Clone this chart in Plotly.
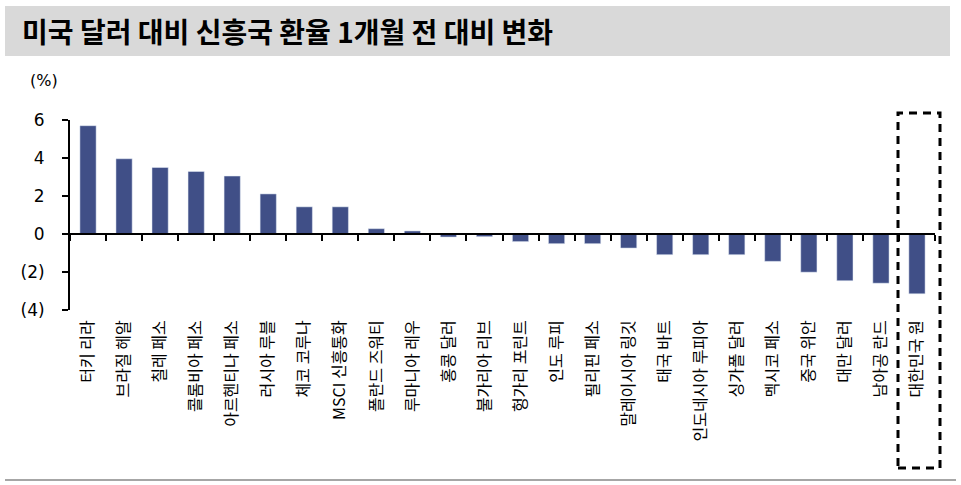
import plotly.graph_objects as go

categories = ["터키 리라", "브라질 헤알", "칠레 페소", "콜롬비아 페소", "아르헨티나 페소",
              "러시아 루블", "체코 코루나", "MSCI 신흥통화", "폴란드 즈워티", "루마니아 레우",
              "홍콩 달러", "불가리아 리브", "헝가리 포린트", "인도 루피", "필리핀 페소",
              "말레이시아 링깃", "태국 바트", "인도네시아 루피아", "싱가폴 달러", "멕시코 페소",
              "중국 위안", "대만 달러", "남아공 란드", "대한민국 원"]
values = [5.70, 3.96, 3.50, 3.29, 3.05, 2.11, 1.43, 1.43, 0.28, 0.16,
          -0.16, -0.14, -0.40, -0.51, -0.51, -0.74, -1.09, -1.09, -1.09, -1.44,
          -2.01, -2.46, -2.59, -3.15]
y_ticks = [-4, -2, 0, 2, 4, 6]
y_tick_labels = ["(4)", "(2)", "0", "2", "4", "6"]
title_text = "미국 달러 대비 신흥국 환율 1개월 전 대비 변화"
unit_text = "(%)"
highlight = "대한민국 원"

W, H = 961, 485
ML, MR, MT, MB = 70, 26, 120, 175
PW, PH = W - ML - MR, H - MT - MB
YMIN, YMAX = -4, 6

def px_x(px):
    return (px - ML) / PW

def px_y(py):
    return (H - MB - py) / PH

FONT = "Noto Sans CJK KR"
BAR = "#404F87"

fig = go.Figure()
fig.add_trace(go.Bar(x=categories, y=values, marker=dict(color=BAR, line=dict(width=0)),
                     width=0.45, xaxis="x", yaxis="y", hoverinfo="x+y"))
# invisible trace for the label axis at the bottom
fig.add_trace(go.Bar(x=categories, y=values, marker=dict(color="rgba(0,0,0,0)"),
                     width=0.45, xaxis="x2", yaxis="y", hoverinfo="skip", showlegend=False))

zero_pos = (0 - YMIN) / (YMAX - YMIN)

fig.update_layout(
    width=W, height=H,
    margin=dict(l=ML, r=MR, t=MT, b=MB),
    paper_bgcolor="white", plot_bgcolor="white",
    showlegend=False,
    font=dict(family=FONT, color="black"),
    xaxis=dict(type="category", anchor="free", position=zero_pos, showline=True,
               linecolor="black", linewidth=2, ticks="outside", ticklen=6, tickwidth=2,
               tickcolor="black", tickson="boundaries", showticklabels=False,
               showgrid=False, zeroline=False, range=[-0.5, len(categories) - 0.5]),
    xaxis2=dict(type="category", overlaying="x", anchor="y", side="bottom",
                showline=False, ticks="", showgrid=False, tickangle=-90,
                tickfont=dict(size=16, family=FONT, color="black"),
                ticklabelstandoff=6, range=[-0.5, len(categories) - 0.5]),
    yaxis=dict(range=[YMIN, YMAX], tickvals=y_ticks, ticktext=y_tick_labels,
               showline=True, linecolor="black", linewidth=2, ticks="outside",
               ticklen=6, tickwidth=2, tickcolor="black", showgrid=False,
               zeroline=False, tickfont=dict(size=17, family="DejaVu Sans", color="black"),
               ticklabelstandoff=14),
    bargap=0.55,
)

shapes = [
    # title band
    dict(type="rect", xref="paper", yref="paper", x0=px_x(5), x1=px_x(950),
         y0=px_y(56), y1=px_y(6), fillcolor="#D9D9D9", line=dict(width=0), layer="below"),
    # bottom rule
    dict(type="line", xref="paper", yref="paper", x0=px_x(5), x1=px_x(956),
         y0=px_y(480), y1=px_y(480), line=dict(color="#A6A6A6", width=2)),
    # highlight box around the last category
    dict(type="rect", xref="paper", yref="paper", x0=px_x(898), x1=px_x(940),
         y0=px_y(468), y1=px_y(113), line=dict(color="black", width=3, dash="8px,6px"),
         fillcolor="rgba(0,0,0,0)"),
]
fig.update_layout(shapes=shapes)

fig.add_annotation(text=f"<b>{title_text}</b>", xref="paper", yref="paper",
                   x=px_x(20), y=px_y(31), xanchor="left", yanchor="middle",
                   showarrow=False, font=dict(size=28, family=FONT, color="black"))
fig.add_annotation(text=unit_text, xref="paper", yref="paper",
                   x=px_x(28), y=px_y(80), xanchor="left", yanchor="middle",
                   showarrow=False, font=dict(size=16, family="DejaVu Sans", color="black"))

fig.write_html("out.html", config={"displayModeBar": False},
               post_script="document.body.style.margin='0px';document.body.style.overflow='hidden';")
